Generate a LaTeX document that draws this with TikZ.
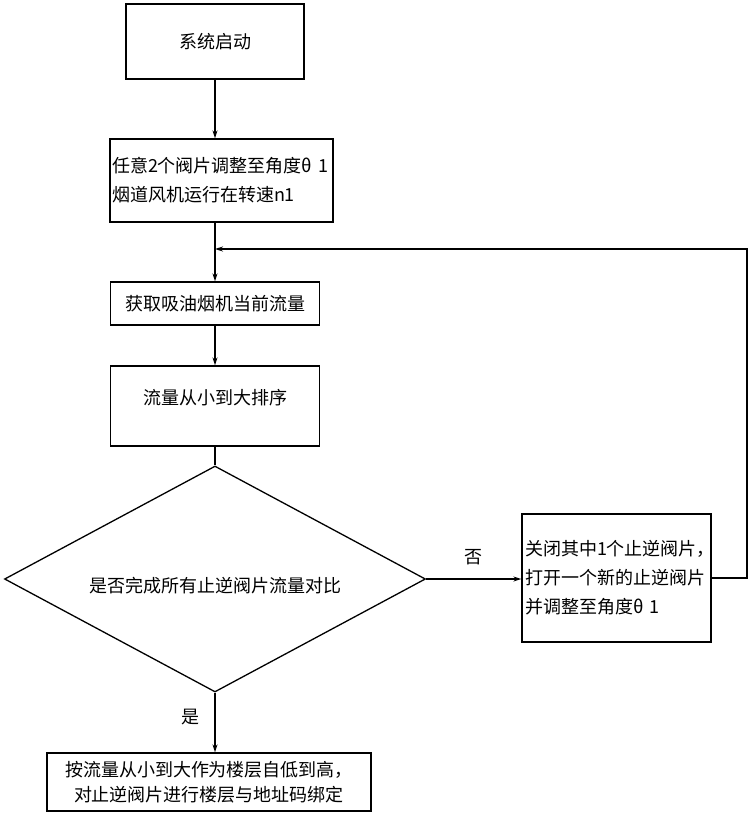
\documentclass[tikz,border=0pt]{standalone}
\usepackage{fontspec}
\setmainfont{Noto Sans CJK SC}
\usetikzlibrary{shapes.geometric,arrows.meta}

\begin{document}
\begin{tikzpicture}[x=1pt,y=-1pt,
  box/.style={draw,line width=1.3pt,inner sep=2pt,font=\fontsize{18}{29}\selectfont},
  lbl/.style={font=\fontsize{18}{20}\selectfont},
  arr/.style={line width=1.3pt,-{Stealth[length=8pt,width=5pt]}}]
\useasboundingbox (0,0) rectangle (750,815);

% start
\node[box,minimum width=178pt,minimum height=75pt] (start) at (215,41.5) {系统启动};

% set
\node[box,minimum width=223pt,minimum height=83pt,text width=219pt,align=left] (set) at (221.5,180.5) {任意2个阀片调整至角度θ 1\\烟道风机运行在转速n1};

% get
\node[box,minimum width=209pt,minimum height=43pt] (get) at (215,303.5) {获取吸油烟机当前流量};

% sort
\node[box,minimum width=209pt,minimum height=80pt,text depth=18pt] (sort) at (215,406) {流量从小到大排序};

% check
\node[box,diamond,aspect=1.86,minimum width=421pt,minimum height=226pt,inner sep=0pt,text height=29pt] (check) at (215,579) {是否完成所有止逆阀片流量对比};

% adjust
\node[box,minimum width=189pt,minimum height=128pt,text width=183pt,align=left] (adjust) at (616.5,578) {关闭其中1个止逆阀片，\\打开一个新的止逆阀片\\并调整至角度θ 1};

% bind
\node[box,minimum width=324pt,minimum height=58pt,align=center,font=\fontsize{18}{25}\selectfont] (bind) at (209,782) {按流量从小到大作为楼层自低到高，\\对止逆阀片进行楼层与地址码绑定};

% loop
\coordinate (join) at (215,249);
\coordinate (back) at (747,249);

\draw[arr] (start.south) -- (start.south |- set.north);
\draw[line width=1.3pt] (join |- set.south) -- (join);
\draw[arr] (join) -- (join |- get.north);
\draw[arr] (get.south) -- (sort.north);
\draw[line width=1.3pt] (sort.south) -- (check.north);
\draw[arr] (check.east) -- node[lbl,above=10pt] {否} (check.east -| adjust.west);
\draw[arr] (check.south) -- node[lbl,pos=0.4,left=12pt] {是} (check.south |- bind.north);
\draw[arr] (adjust.east) -| (back) -- (join);
\end{tikzpicture}
\end{document}
